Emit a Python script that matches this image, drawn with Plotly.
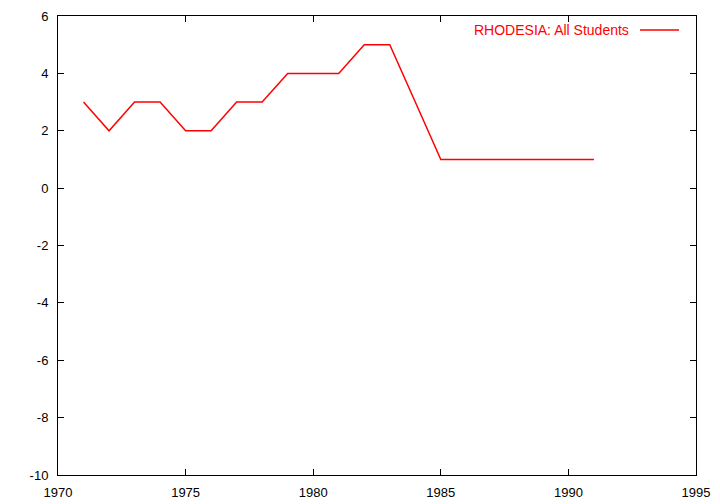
import plotly.graph_objects as go

years = [1971, 1972, 1973, 1974, 1975, 1976, 1977, 1978, 1979, 1980, 1981,
         1982, 1983, 1984, 1985, 1986, 1987, 1988, 1989, 1990, 1991]
values = [3, 2, 3, 3, 2, 2, 3, 3, 4, 4, 4, 5, 5, 3, 1, 1, 1, 1, 1, 1, 1]
series_name = "RHODESIA: All Students"
x_ticks = [1970, 1975, 1980, 1985, 1990, 1995]
y_ticks = [-10, -8, -6, -4, -2, 0, 2, 4, 6]

# the page body has an 8px default margin, so the figure starts at (8, 8)
OFF = 8
W, H = 720 - OFF, 504 - OFF
L, R, T, B = 58 - OFF, 24, 16 - OFF, 29
FONT = "Liberation Sans, Arial, Helvetica, sans-serif"

fig = go.Figure()
fig.add_trace(go.Scatter(x=years, y=values, mode="lines", name=series_name,
                         line=dict(color="#ff0000", width=1.5), showlegend=False))

axis_common = dict(showline=True, linecolor="black", linewidth=1, mirror="allticks",
                   ticks="inside", ticklen=6, tickcolor="black", tickwidth=1,
                   showgrid=False, zeroline=False, automargin=False,
                   tickfont=dict(family=FONT, size=13, color="black"))

fig.update_layout(
    width=W, height=H,
    margin=dict(l=L, r=R, t=T, b=B),
    paper_bgcolor="white", plot_bgcolor="white",
    xaxis=dict(range=[1970, 1995], tickvals=x_ticks, ticktext=[str(v) for v in x_ticks],
               ticklabelstandoff=5, **axis_common),
    yaxis=dict(range=[-10, 6], tickvals=y_ticks, ticktext=[str(v) for v in y_ticks],
               ticklabelstandoff=6, **axis_common),
)

pw = W - L - R
ph = H - T - B
def px(xp):
    return (xp - OFF - L) / pw
def py(yp):
    return 1 - (yp - OFF - T) / ph

fig.add_annotation(x=px(631), y=py(30), xref="paper", yref="paper", text=series_name,
                   showarrow=False, xanchor="right", yanchor="middle",
                   font=dict(family=FONT, size=14, color="#ff0000"))
fig.add_shape(type="line", xref="paper", yref="paper", x0=px(640), x1=px(679), y0=py(30), y1=py(30),
              line=dict(color="#ff0000", width=1.5))

fig.write_html("out.html")
